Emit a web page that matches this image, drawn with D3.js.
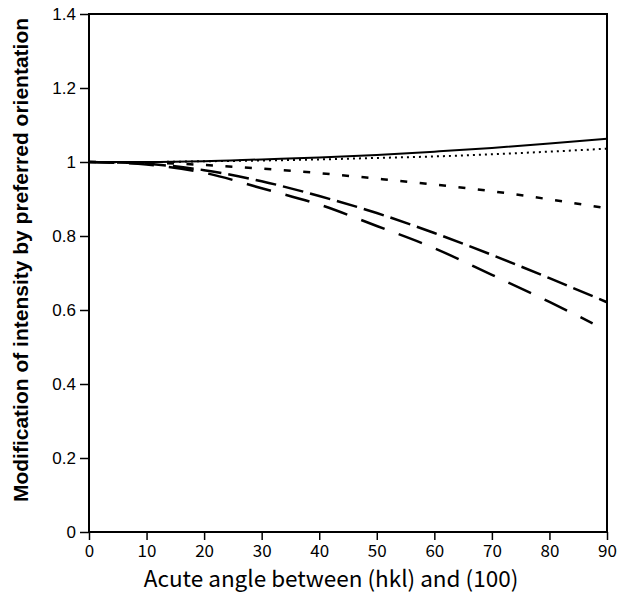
<!DOCTYPE html>
<html>
<head>
<meta charset="utf-8">
<script src="https://cdn.jsdelivr.net/npm/d3@7"></script>
<style>
  body { margin: 0; background: #fff; }
  svg { display: block; }
</style>
</head>
<body>
<div id="chart"></div>
<script>
const angles = [0, 10, 20, 30, 40, 50, 60, 70, 80, 90]
const solidVals = [1.0, 1.0, 1.002, 1.007, 1.012, 1.019, 1.028, 1.038, 1.05, 1.063]
const dottedVals = [1.0, 1.0, 1.002, 1.004, 1.007, 1.011, 1.015, 1.021, 1.028, 1.036]
const shortDashVals = [1.0, 0.998, 0.992, 0.982, 0.97, 0.955, 0.939, 0.921, 0.899, 0.875]
const longDashVals = [1.0, 0.995, 0.978, 0.948, 0.908, 0.862, 0.808, 0.749, 0.686, 0.621]
const longerDashVals = [1.0, 0.993, 0.971, 0.929, 0.885, 0.827, 0.767, 0.695, 0.622, 0.564]
const longerDashAngles = [0, 10, 20, 30, 40, 50, 60, 70, 80, 87.5]
const xTicks = [0, 10, 20, 30, 40, 50, 60, 70, 80, 90]
const yTicks = [0, 0.2, 0.4, 0.6, 0.8, 1, 1.2, 1.4]

const W = 618, H = 605
const margin = { top: 14, right: 11, bottom: 73, left: 89 }
const width = W - margin.left - margin.right
const height = H - margin.top - margin.bottom

const svg = d3.select("#chart").append("svg")
  .attr("width", W)
  .attr("height", H)

const g = svg.append("g")
  .attr("transform", `translate(${margin.left},${margin.top})`)

const x = d3.scaleLinear().domain([0, 90]).range([0, width])
const y = d3.scaleLinear().domain([0, 1.4]).range([height, 0])

const xAxis = d3.axisBottom(x).tickValues(xTicks).tickSize(8).tickPadding(5).tickSizeOuter(0)
const yAxis = d3.axisLeft(y).tickValues(yTicks).tickSize(9).tickPadding(4).tickSizeOuter(0)
  .tickFormat(d => d3.format("")(+d.toFixed(1)))

const gx = g.append("g")
  .attr("transform", `translate(0,${height})`)
  .call(xAxis)
gx.selectAll("text")
  .attr("font-family", "'Noto Sans CJK JP', 'DejaVu Sans', sans-serif")
  .attr("font-size", 17)
  .attr("fill", "#000")

const gy = g.append("g").call(yAxis)
gy.selectAll("text")
  .attr("font-family", "'Liberation Sans', Arial, sans-serif")
  .attr("font-size", 17)
  .attr("fill", "#000")

g.selectAll(".domain").remove()
g.selectAll(".tick line").attr("stroke", "#000").attr("stroke-width", 1.5)

// frame
g.append("rect")
  .attr("x", 0).attr("y", 0)
  .attr("width", width).attr("height", height)
  .attr("fill", "none")
  .attr("stroke", "#000")
  .attr("stroke-width", 2)

const series = [
  { xs: angles, ys: solidVals, dash: null, sw: 2 },
  { xs: angles, ys: dottedVals, dash: "2,4", sw: 2 },
  { xs: angles, ys: shortDashVals, dash: "7,12.5", sw: 2.5 },
  { xs: angles, ys: longDashVals, dash: "21,7", sw: 2.5 },
  { xs: longerDashAngles, ys: longerDashVals, dash: "25,15", sw: 2.5 }
]

const line = d3.line()
  .x(d => x(d[0]))
  .y(d => y(d[1]))
  .curve(d3.curveMonotoneX)

series.forEach(s => {
  g.append("path")
    .datum(s.xs.map((a, i) => [a, s.ys[i]]))
    .attr("fill", "none")
    .attr("stroke", "#000")
    .attr("stroke-width", s.sw)
    .attr("stroke-dasharray", s.dash)
    .attr("d", line)
})

svg.append("text")
  .attr("x", 331)
  .attr("y", 587)
  .attr("text-anchor", "middle")
  .attr("font-family", "'Noto Sans CJK JP', 'DejaVu Sans', sans-serif")
  .attr("font-size", 22.5)
  .text("Acute angle between (hkl) and (100)")

svg.append("text")
  .attr("transform", `translate(28,260) rotate(-90)`)
  .attr("text-anchor", "middle")
  .attr("font-family", "'Liberation Sans', Arial, sans-serif")
  .attr("font-weight", "bold")
  .attr("font-size", 21)
  .text("Modification of intensity by preferred orientation")
</script>
</body>
</html>
